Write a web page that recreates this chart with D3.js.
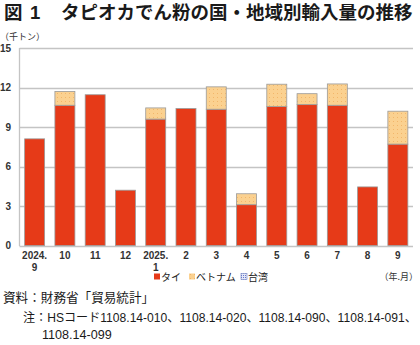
<!DOCTYPE html>
<html>
<head>
<meta charset="utf-8">
<script src="https://cdn.jsdelivr.net/npm/d3@7"></script>
<style>
  html, body { margin: 0; padding: 0; background: #fff; }
  svg { display: block; }
  .jp { font-family: "Noto Sans CJK JP", "Noto Sans", sans-serif; }
  .mix { font-family: "Liberation Sans", "Noto Sans CJK JP", sans-serif; }
  .num { font-family: "Liberation Sans", Arial, sans-serif; }
</style>
</head>
<body>
<script>
// Monthly import volume of tapioca starch by origin (thousand tonnes)
const months = ["2024.|9", "10", "11", "12", "2025.|1", "2", "3", "4", "5", "6", "7", "8", "9"];
const thailand = [8.1, 10.65, 11.45, 4.2, 9.6, 10.4, 10.35, 3.1, 10.55, 10.7, 10.65, 4.45, 7.7];
const vietnam  = [0, 1.05, 0, 0, 0.85, 0, 1.7, 0.83, 1.7, 0.83, 1.62, 0, 2.5];
const taiwan   = [0, 0, 0, 0, 0, 0, 0, 0, 0, 0, 0, 0, 0];
const seriesNames = ["タイ", "ベトナム", "台湾"];
const yTicks = [0, 3, 6, 9, 12, 15];

const W = 420, H = 345;
const svg = d3.select("body").append("svg").attr("width", W).attr("height", H);

// fill patterns
const defs = svg.append("defs");
const pv = defs.append("pattern").attr("id", "vnDots").attr("patternUnits", "userSpaceOnUse")
  .attr("width", 4).attr("height", 4);
pv.append("rect").attr("width", 4).attr("height", 4).attr("fill", "#fbd190");
pv.append("rect").attr("x", 1).attr("y", 1).attr("width", 1).attr("height", 1).attr("fill", "#f2b66a");
const pt = defs.append("pattern").attr("id", "twDots").attr("patternUnits", "userSpaceOnUse")
  .attr("width", 2).attr("height", 2);
pt.append("rect").attr("width", 2).attr("height", 2).attr("fill", "#e4e8f8");
pt.append("rect").attr("width", 1).attr("height", 1).attr("fill", "#6677cc");

const fills = ["#e63a18", "url(#vnDots)", "url(#twDots)"];

const rows = months.map((m, i) => ({ m, tai: thailand[i], vn: vietnam[i], tw: taiwan[i] }));
const stack = d3.stack().keys(["tai", "vn", "tw"])(rows);

const x = d3.scaleBand().domain(months).range([19.5, 413]).paddingInner(0.34).paddingOuter(0.17);
const y = d3.scaleLinear().domain([0, 15]).range([245.5, 48]);

// title
const title = svg.append("g").attr("class", "jp").attr("font-size", 18.5).attr("font-weight", "bold").attr("fill", "#1a1a1a");
title.append("text").attr("x", 4).attr("y", 19).text("図");
title.append("text").attr("class", "num").attr("x", 30).attr("y", 19).text("1");
title.append("text").attr("x", 61).attr("y", 19)
  .text("タピオカでん粉の国・地域別輸入量の推移");

// unit
svg.append("text").attr("class", "jp").attr("x", 0).attr("y", 40)
  .attr("font-size", 9).attr("fill", "#333").text("（千トン）");

// gridlines
svg.append("g").selectAll("line").data(yTicks).join("line")
  .attr("x1", 19.5).attr("x2", 413)
  .attr("y1", d => Math.round(y(d)) + 0.5).attr("y2", d => Math.round(y(d)) + 0.5)
  .attr("stroke", "#c4c4c4").attr("stroke-width", 1.3);

// left axis line
svg.append("line").attr("x1", 19.5).attr("x2", 19.5)
  .attr("y1", y(15)).attr("y2", y(0) + 0.5)
  .attr("stroke", "#c4c4c4").attr("stroke-width", 1.3);

// y labels
svg.append("g").selectAll("text").data(yTicks).join("text")
  .attr("class", "num").attr("x", 11).attr("y", d => y(d) + 3.5)
  .attr("text-anchor", "end").attr("font-size", 10).attr("font-weight", "bold").attr("fill", "#333")
  .text(d => d);

// bars
svg.append("g").selectAll("g").data(stack).join("g")
  .attr("fill", (d, i) => fills[i])
  .selectAll("rect").data(d => d.filter(s => s[1] - s[0] > 0)).join("rect")
  .attr("x", d => x(d.data.m))
  .attr("width", x.bandwidth())
  .attr("y", d => y(d[1]))
  .attr("height", d => y(d[0]) - y(d[1]))
  .attr("stroke", "#9a9a9a").attr("stroke-width", 0.8);

// x labels
const xl = svg.append("g").selectAll("text").data(months).join("text")
  .attr("class", "num").attr("text-anchor", "middle").attr("font-size", 10).attr("font-weight", "bold").attr("fill", "#333")
  .attr("x", d => x(d) + x.bandwidth() / 2).attr("y", 259);
xl.each(function(d) {
  const parts = d.split("|");
  const t = d3.select(this);
  parts.forEach((p, k) => t.append("tspan").attr("x", x(d) + x.bandwidth() / 2).attr("dy", k ? 12 : 0).text(p));
});

// legend
const legX = [154, 189, 241];
const leg = svg.append("g").selectAll("g").data(seriesNames).join("g")
  .attr("transform", (d, i) => `translate(${legX[i]},277)`);
leg.append("rect").attr("x", 0).attr("y", -3.5).attr("width", 6).attr("height", 6)
  .attr("fill", (d, i) => fills[i])
  .attr("stroke", (d, i) => i === 2 ? "#7080c0" : "none").attr("stroke-width", 0.6);
leg.append("text").attr("class", "jp").attr("x", 7).attr("y", 4)
  .attr("font-size", 10).attr("fill", "#222").text(d => d);

svg.append("text").attr("class", "jp").attr("x", 418).attr("y", 280)
  .attr("text-anchor", "end").attr("font-size", 9).attr("fill", "#333").text("（年.月）");

// source and notes
const foot = svg.append("g").attr("class", "mix").attr("fill", "#1a1a1a");
foot.append("text").attr("x", 3).attr("y", 302).attr("font-size", 12.6).text("資料：財務省「貿易統計」");
foot.append("text").attr("x", 23).attr("y", 322).attr("font-size", 12.1)
  .text("注：HSコード1108.14-010、1108.14-020、1108.14-090、1108.14-091、");
foot.append("text").attr("x", 42).attr("y", 339).attr("font-size", 12.6).text("1108.14-099");
</script>
</body>
</html>
